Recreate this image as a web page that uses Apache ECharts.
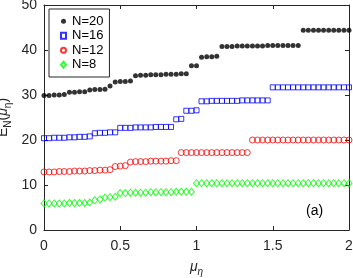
<!DOCTYPE html>
<html><head><meta charset="utf-8">
<script src="https://cdn.jsdelivr.net/npm/echarts@6/dist/echarts.min.js"></script>
<style>html,body{margin:0;padding:0;background:#fff}#c{width:353px;height:278px}</style>
</head><body><div id="c"></div>
<script>
const mu = [0,0.033,0.067,0.1,0.133,0.167,0.2,0.233,0.267,0.3,0.333,0.367,0.4,0.433,0.467,0.5,0.533,0.567,0.6,0.633,0.667,0.7,0.733,0.767,0.8,0.833,0.867,0.9,0.933,0.967,1,1.033,1.067,1.1,1.133,1.167,1.2,1.233,1.267,1.3,1.333,1.367,1.4,1.433,1.467,1.5,1.533,1.567,1.6,1.633,1.667,1.7,1.733,1.767,1.8,1.833,1.867,1.9,1.933,1.967,2];
const seriesNames = ['N=20','N=16','N=12','N=8'];
const N20 = [29.9,29.9,30.0,30.0,30.1, 30.6,30.6,30.7,30.7, 31.1,31.2,31.2,31.3, 32.0, 32.9,33.0,33.0,33.1,
  34.3,34.4,34.4,34.5,34.5,34.5,34.6,34.6,34.6,34.7,34.7, 36.5,36.5, 38.4,38.5,38.5,38.6,
  40.8,40.8,40.8,40.9,40.9,40.9,40.9,40.9,40.9,41.0,41.0,41.0,41.0,41.0,41.0,41.0,
  44.4,44.4,44.4,44.4,44.4,44.4,44.4,44.4,44.4,44.4];
const N16 = [20.4,20.4,20.5,20.5,20.5,20.6,20.6,20.7,20.7,20.8, 21.5,21.6,21.6,21.7,21.7,
  22.7,22.7,22.7,22.8,22.8,22.8,22.8,22.9,22.9,22.9,22.9, 24.6,24.7, 26.5,26.5,26.6,
  28.6,28.6,28.7,28.7,28.7,28.7,28.7,28.7,28.8,28.8,28.8,28.8,28.8,28.8,
  31.7,31.7,31.7,31.7,31.7,31.7,31.7,31.7,31.7,31.7,31.7,31.7,31.7,31.7,31.7,31.7];
const N12 = [12.9,12.9,12.9,13.0,13.0,13.0,13.1,13.1,13.1,13.2,13.2,13.3,13.3,13.4, 14.1,14.2,14.3,
  15.1,15.2,15.2,15.2,15.3,15.3,15.3,15.3,15.4,15.4,
  17.2,17.2,17.2,17.2,17.2,17.2,17.2,17.2,17.2,17.2,17.2,17.2,17.2,17.2,
  20.0,20.0,20.0,20.0,20.0,20.0,20.0,20.0,20.0,20.0,20.0,20.0,20.0,20.0,20.0,20.0,20.0,20.0,20.0,20.0];
const N8 = [5.9,5.9,5.9,5.9,5.9,6.0,6.0,6.0,6.0, 6.1, 6.6,6.8, 7.2,7.3,7.4,
  8.2,8.2,8.3,8.3,8.3,8.3,8.4,8.4,8.4,8.4,8.4,8.5,8.5,8.5,8.5,
  10.4,10.4,10.4,10.4,10.4,10.4,10.4,10.4,10.4,10.4,10.4,10.4,10.4,10.4,10.4,10.4,
  10.4,10.4,10.4,10.4,10.4,10.4,10.4,10.4,10.4,10.4,10.4,10.4,10.4,10.4,10.4];
const xTicks = [0,0.5,1,1.5,2];
const yTicks = [0,10,20,30,40,50];

const pair = arr => mu.map((m,i)=>[m,arr[i]]);
const axisCol = '#262626';
const font = 'Liberation Sans, Arial, sans-serif';
const chart = echarts.init(document.getElementById('c'));
const baseAxis = {
  axisLine:{show:true,onZero:false,lineStyle:{color:axisCol,width:1}},
  axisTick:{show:true,inside:true,length:4,lineStyle:{color:axisCol}},
  splitLine:{show:false}
};
chart.setOption({
  animation:false,
  textStyle:{fontFamily:font},
  grid:{left:44,right:4,top:5,bottom:48,containLabel:false,outerBoundsMode:'none'},
  legend:{
    orient:'vertical',left:49,top:9,
    padding:[5,6,5,11],itemGap:0,itemWidth:5,itemHeight:6,itemSymbolKeepAspect:true,
    backgroundColor:'#fff',borderColor:axisCol,borderWidth:1,
    textStyle:{fontSize:13,color:'#000',fontFamily:font,lineHeight:14.5,padding:[0,0,0,1]},
    data:seriesNames
  },
  xAxis:[
    Object.assign({type:'value',min:0,max:2,interval:0.5,position:'bottom',
      axisLabel:{fontSize:14,color:axisCol,margin:9,formatter:v=>String(v)},
      name:'{m|μ}{s|η}',nameLocation:'middle',nameGap:27,nameMoveOverlap:false,
      nameTextStyle:{rich:{m:{fontSize:14,fontStyle:'italic',color:axisCol,fontFamily:font},s:{fontSize:10,fontStyle:'italic',color:axisCol,padding:[10,0,0,0],fontFamily:font}}}
    },baseAxis),
    Object.assign({type:'value',min:0,max:2,interval:0.5,position:'top',axisLabel:{show:false}},baseAxis)
  ],
  yAxis:[
    Object.assign({type:'value',min:0,max:50,interval:10,position:'left',
      axisLabel:{fontSize:14,color:axisCol,margin:7},
      name:'{m|E}{s|N}{m|(}{i|μ}{s|η}{m|)}',nameLocation:'middle',nameGap:31,nameRotate:90,nameMoveOverlap:false,
      nameTextStyle:{rich:{
        m:{fontSize:14,color:axisCol,fontFamily:font},
        i:{fontSize:14,fontStyle:'italic',color:axisCol,fontFamily:font},
        s:{fontSize:10,color:axisCol,padding:[10,0,0,0],fontFamily:font}}}
    },baseAxis),
    Object.assign({type:'value',min:0,max:50,interval:10,position:'right',axisLabel:{show:false}},baseAxis)
  ],
  graphic:[{type:'text',left:306,top:204,style:{text:'(a)',fontSize:14,fill:'#000',fontFamily:font}}],
  series:[
    {name:'N=20',type:'scatter',data:pair(N20),symbol:'circle',symbolSize:5,
      itemStyle:{color:'#000'}},
    {name:'N=16',type:'scatter',data:pair(N16),symbol:'rect',symbolSize:5,
      itemStyle:{color:'rgba(255,255,255,0)',borderColor:'#0000ff',borderWidth:1}},
    {name:'N=12',type:'scatter',data:pair(N12),symbol:'circle',symbolSize:6,
      itemStyle:{color:'rgba(255,255,255,0)',borderColor:'#ff0000',borderWidth:1}},
    {name:'N=8',type:'scatter',data:pair(N8),symbol:'diamond',symbolSize:[6,7],
      itemStyle:{color:'rgba(255,255,255,0)',borderColor:'#00ff00',borderWidth:1}}
  ]
});
</script></body></html>
